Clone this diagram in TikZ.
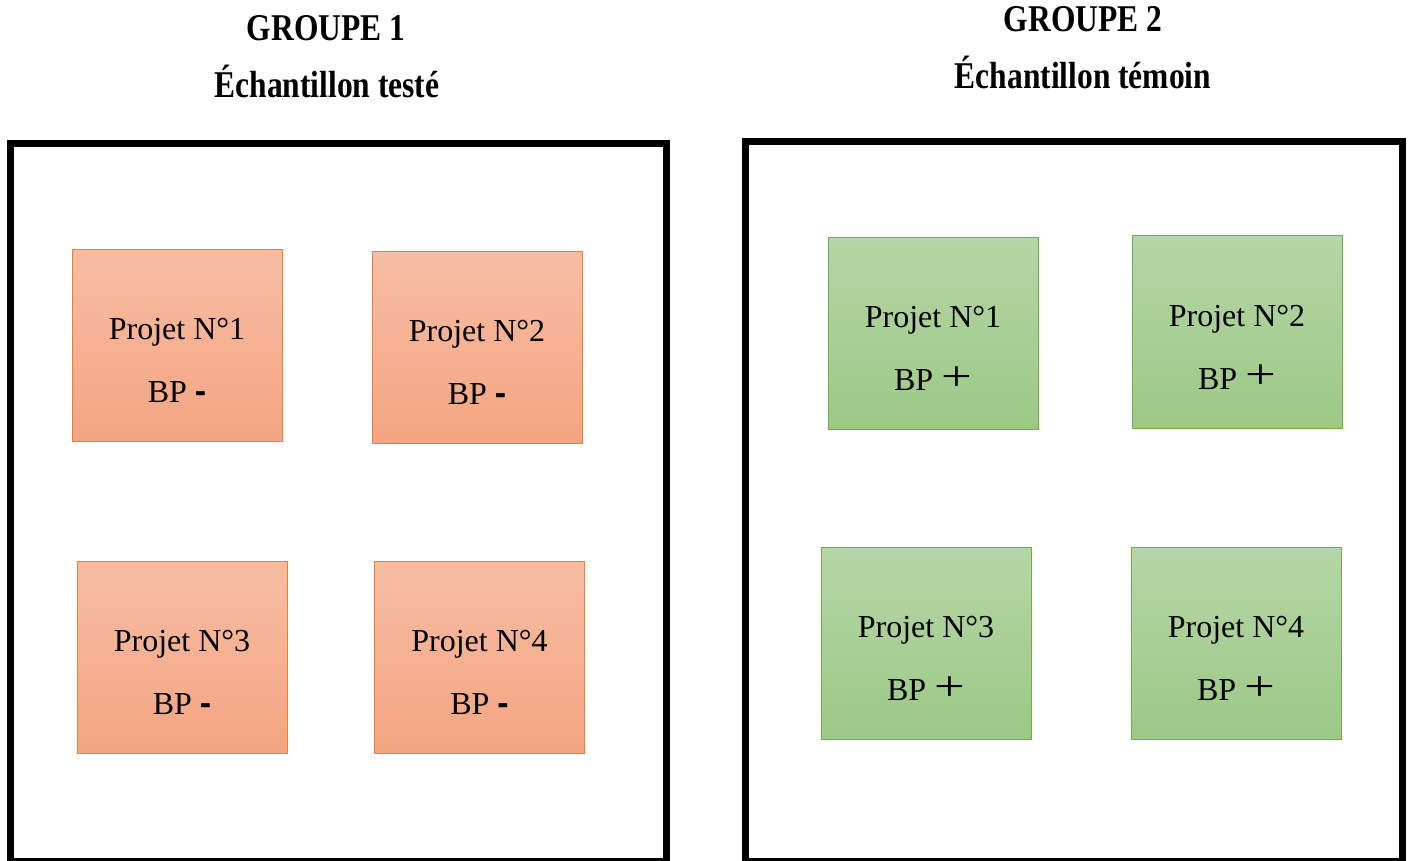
\documentclass[tikz,border=0pt]{standalone}
\usepackage{fontspec}
\setmainfont{Liberation Serif}
\newfontfamily\signfont{Liberation Sans}
\definecolor{otop}{HTML}{F6BDA3}
\definecolor{obot}{HTML}{F4A581}
\definecolor{oline}{HTML}{ED7D31}
\definecolor{gtop}{HTML}{B5D6A6}
\definecolor{gbot}{HTML}{9CC986}
\definecolor{gline}{HTML}{70AD47}
\newcommand{\minussign}{{\signfont\bfseries\fontsize{34}{36}\selectfont -}}
\newcommand{\plussign}{\raisebox{0.5pt}{\fontsize{42}{42}\selectfont\scalebox{1.3}[1]{+}}}
\tikzset{
  frame/.style={draw=black,line width=7pt},
  obox/.style={draw=oline,line width=1pt,top color=otop,bottom color=obot,minimum width=210pt,minimum height=192pt,inner sep=0pt},
  gbox/.style={draw=gline,line width=1pt,top color=gtop,bottom color=gbot,minimum width=210pt,minimum height=192pt,inner sep=0pt},
  ptext/.style={anchor=base,inner sep=0pt,font=\fontsize{32}{36}\selectfont},
  head/.style={inner sep=0pt,font=\fontsize{31.5}{36}\selectfont\bfseries}
}
\newcommand{\projbox}[6]{% name, x, y, style, number, sign
  \node[#4] (#1) at (#2,#3) {};
  \node[ptext] (#1t) at ([yshift=6pt]#1.center) {Projet N°#5};
  \node[ptext] (#1s) at ([yshift=-57pt]#1.center) {BP #6};
}
\begin{document}
\begin{tikzpicture}[x=1pt,y=-1pt]
\useasboundingbox (0,0) rectangle (1408,861);
\fill[white] (0,0) rectangle (1408,861);
% headers
\node[head] (h1a) at (326,28) {\scalebox{1}[1.2]{GROUPE 1}};
\node[head] (h1b) at (327,81) {\scalebox{1}[1.2]{Échantillon testé}};
\node[head] (h2a) at (1083,19) {\scalebox{1}[1.2]{GROUPE 2}};
\node[head] (h2b) at (1083,72) {\scalebox{1}[1.2]{Échantillon témoin}};
% frames
\draw[frame] (10,144) rectangle (666,861);
\draw[frame] (745.5,141.5) rectangle (1402,861);
% group 1
\projbox{a1}{177}{345}{obox}{1}{\minussign}
\projbox{a2}{477}{347}{obox}{2}{\minussign}
\projbox{a3}{182}{657}{obox}{3}{\minussign}
\projbox{a4}{479.5}{657}{obox}{4}{\minussign}
% group 2
\projbox{b1}{933}{333.5}{gbox}{1}{\plussign}
\projbox{b2}{1237}{332}{gbox}{2}{\plussign}
\projbox{b3}{926}{643.5}{gbox}{3}{\plussign}
\projbox{b4}{1236}{643.5}{gbox}{4}{\plussign}
\end{tikzpicture}
\end{document}
